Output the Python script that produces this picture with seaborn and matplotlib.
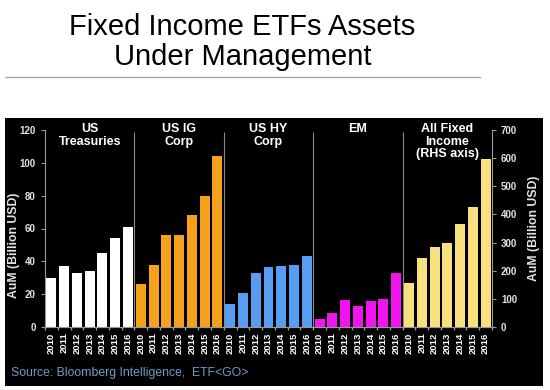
import matplotlib
matplotlib.use("Agg")
import matplotlib.pyplot as plt
from matplotlib.patches import Rectangle
from matplotlib.lines import Line2D
import numpy as np
import pandas as pd
import seaborn as sns

# values (Billion USD)
years = ["2010", "2011", "2012", "2013", "2014", "2015", "2016"]
groups = ["US\nTreasuries", "US IG\nCorp", "US HY\nCorp", "EM", "All Fixed\nIncome\n(RHS axis)"]
treasuries = [30, 37, 33, 34, 45, 54, 61]
ig_corp = [26, 38, 56, 56, 68, 80, 104]
hy_corp = [14, 21, 33, 36.5, 37, 38, 43]
em = [5, 8.5, 16.5, 13, 16, 17, 33]
all_fixed = [155, 245, 286, 298, 365, 427, 596]  # right hand axis
colors = ["#ffffff", "#f6a11c", "#579ef2", "#f014ee", "#f8df80"]

sns.set_theme(style="ticks")
plt.rcParams["font.family"] = ["Liberation Sans", "DejaVu Sans"]

rows = []
for gi, (g, vals) in enumerate(zip(groups, [treasuries, ig_corp, hy_corp, em, all_fixed])):
    for yi, (yr, v) in enumerate(zip(years, vals)):
        rows.append({"group": g, "year": yr, "value": v, "pos": gi * len(years) + yi})
df = pd.DataFrame(rows)
left = df[df.group != groups[-1]]
right = df[df.group == groups[-1]]
pal = dict(zip(groups, colors))

fig = plt.figure(figsize=(5.5, 3.9), dpi=100)
fig.patches.append(Rectangle((5 / 550, 1 - 386 / 390), 538 / 550, 268 / 390,
                             transform=fig.transFigure, facecolor="black", edgecolor="none", zorder=-5))
fig.add_artist(Line2D([5 / 550, 480 / 550], [1 - 77 / 390] * 2, color="#a8a8a8", lw=1))

ax = fig.add_axes([45 / 550, 1 - 327 / 390, 447 / 550, 197 / 390])
ax.set_zorder(2)
ax.set_facecolor("black")
sns.barplot(data=left, x="pos", y="value", hue="group", palette=pal, native_scale=True,
            dodge=False, width=0.78, saturation=1, errorbar=None, legend=False,
            linewidth=0, ax=ax)
ax2 = ax.twinx()
ax2.set_zorder(3)
sns.barplot(data=right, x="pos", y="value", hue="group", palette=pal, native_scale=True,
            dodge=False, width=0.78, saturation=1, errorbar=None, legend=False,
            linewidth=0, ax=ax2)

n = len(df)
ax.set_xlim(-0.5, n - 0.5)
ax.set_ylim(0, 120)
ax2.set_ylim(0, 700)
ax.set_yticks(range(0, 121, 20))
ax2.set_yticks(range(0, 701, 100))
ax.set_xticks(df.pos)
ax.set_xticklabels(df.year, rotation=90, fontsize=6.8, fontweight="bold", color="white")
ax.set_xticks(np.arange(-0.5, n, 1), minor=True)
ax.tick_params(axis="x", which="major", length=0, pad=4)
ax.tick_params(axis="x", which="minor", length=2.5, color="#999999")

for a in (ax, ax2):
    a.set_xlabel("")
    a.tick_params(axis="y", labelsize=7, labelcolor="#e4e4e4", color="#999999", length=3, width=0.8)
    for t in a.get_yticklabels():
        t.set_fontweight("bold")
    for s in a.spines.values():
        s.set_color("#999999")
        s.set_linewidth(0.8)
    a.spines["top"].set_visible(False)
ax.spines["right"].set_visible(False)
ax2.spines["left"].set_visible(False)

ax.set_ylabel("AuM (Billion USD)", fontsize=8.8, fontweight="bold", color="#e4e4e4")
ax.yaxis.set_label_coords(-0.056, 0.416)
ax2.set_ylabel("AuM (Billion USD)", fontsize=8.8, fontweight="bold", color="#e4e4e4", rotation=90)
ax2.yaxis.set_label_coords(1.08, 0.5)

k = len(years)
for gi, g in enumerate(groups):
    if gi > 0:
        ax.vlines(gi * k - 0.5, 0, 118.5, color="#8a8a8a", lw=0.8, zorder=3)
    ax.text(gi * k + (k - 1) / 2, 124, g, ha="center", va="top", fontsize=9,
            fontweight="bold", color="white", linespacing=1.05, clip_on=False, zorder=4)

fig.text(242.5 / 550, 1 - 35 / 390, "Fixed Income ETFs Assets", ha="center", va="baseline",
         fontsize=21, color="black")
fig.text(242.5 / 550, 1 - 65 / 390, "Under Management", ha="center", va="baseline",
         fontsize=21, color="black")
fig.text(11 / 550, 1 - 376 / 390, "Source: Bloomberg Intelligence,  ETF<GO>", ha="left",
         va="baseline", fontsize=8.8, color="#6d9cc8")

fig.savefig("out.png", dpi=100, facecolor="white")
